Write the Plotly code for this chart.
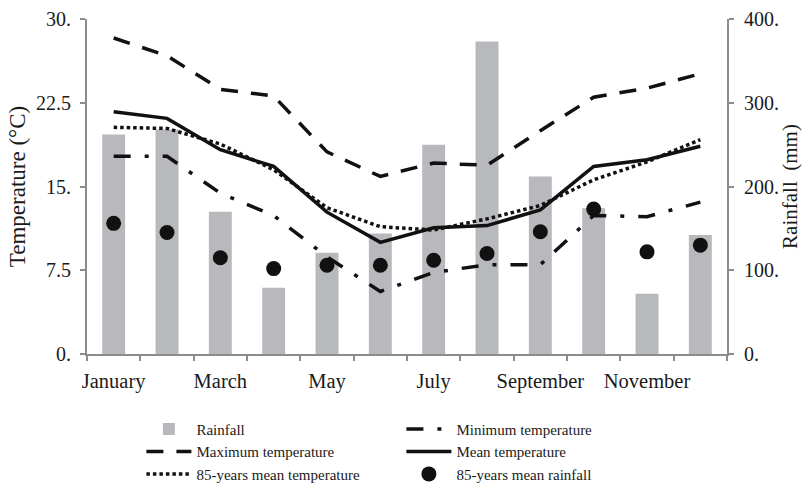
import plotly.graph_objects as go

months = ["January", "February", "March", "April", "May", "June", "July",
          "August", "September", "October", "November", "December"]
month_labels = ["January", "", "March", "", "May", "", "July", "",
                "September", "", "November", ""]

rainfall = [262, 268, 170, 79, 121, 144, 250, 373, 212, 174, 72, 142]
rain_85 = [156, 145, 115, 102, 106, 106, 112, 120, 146, 173, 122, 130]
t_max = [28.3, 26.7, 23.7, 23.1, 18.1, 15.9, 17.1, 16.9, 20.0, 23.0, 23.8, 25.1]
t_min = [17.7, 17.7, 14.4, 12.4, 8.7, 5.6, 7.3, 8.0, 8.0, 12.4, 12.3, 13.6]
t_mean = [21.7, 21.1, 18.3, 16.8, 12.7, 10.0, 11.3, 11.5, 12.9, 16.8, 17.4, 18.6]
t_mean_85 = [20.3, 20.2, 18.8, 16.5, 13.1, 11.4, 11.1, 12.1, 13.3, 15.6, 17.2, 19.2]

temp_ticks = [0, 7.5, 15, 22.5, 30]
temp_ticktext = ["0.", "7.5", "15.", "22.5", "30."]
rain_ticks = [0, 100, 200, 300, 400]
rain_ticktext = ["0.", "100.", "200.", "300.", "400."]

FONT = "Liberation Serif"
AXIS_COL = "#8c8c8c"

fig = go.Figure()

fig.add_trace(go.Bar(x=months, y=rainfall, name="Rainfall", yaxis="y",
                     marker=dict(color="#b8b9bd", line=dict(width=0)),
                     width=0.43, legendrank=1))
fig.add_trace(go.Scatter(x=months, y=rain_85, name="85-years mean rainfall",
                         yaxis="y", mode="markers",
                         marker=dict(color="#111111", size=15),
                         legendrank=6))

line_w = 3.5
fig.add_trace(go.Scatter(x=months, y=t_min, name="Minimum temperature", yaxis="y2",
                         mode="lines",
                         line=dict(color="#111111", width=line_w,
                                   dash="17px,14px,4px,14px"),
                         legendrank=2))
fig.add_trace(go.Scatter(x=months, y=t_max, name="Maximum temperature", yaxis="y2",
                         mode="lines",
                         line=dict(color="#111111", width=line_w, dash="17px,13px"),
                         legendrank=3))
fig.add_trace(go.Scatter(x=months, y=t_mean, name="Mean temperature", yaxis="y2",
                         mode="lines",
                         line=dict(color="#111111", width=line_w),
                         legendrank=4))
fig.add_trace(go.Scatter(x=months, y=t_mean_85, name="85-years mean temperature",
                         yaxis="y2", mode="lines",
                         line=dict(color="#111111", width=line_w, dash="3.5px,3px"),
                         legendrank=5))

fig.update_layout(
    width=802, height=489,
    margin=dict(l=87, r=75, t=19, b=135, autoexpand=False),
    paper_bgcolor="white", plot_bgcolor="white",
    font=dict(family=FONT, color="#1a1a1a", size=19),
    showlegend=True,
    bargap=0.5,
    xaxis=dict(
        type="category", categoryorder="array", categoryarray=months,
        range=[-0.5, 11.5], autorange=False,
        tickmode="array", tickvals=months, ticktext=month_labels,
        tickson="boundaries", ticks="outside", ticklen=5, tickcolor=AXIS_COL,
        tickwidth=1.5, tickangle=0, ticklabelstandoff=7,
        showline=True, linecolor=AXIS_COL, linewidth=2,
        showgrid=False, zeroline=False,
        tickfont=dict(family=FONT, size=20.5),
    ),
    yaxis=dict(
        range=[0, 400], side="right",
        tickmode="array", tickvals=rain_ticks, ticktext=rain_ticktext,
        ticks="outside", ticklen=5, tickcolor=AXIS_COL, tickwidth=1.5,
        ticklabelstandoff=6,
        showline=True, linecolor=AXIS_COL, linewidth=2,
        showgrid=False, zeroline=False,
        tickfont=dict(family=FONT, size=20),
        title=dict(text="Rainfall  (mm)", font=dict(family=FONT, size=21), standoff=3),
    ),
    yaxis2=dict(
        range=[0, 30], side="left", overlaying="y",
        tickmode="array", tickvals=temp_ticks, ticktext=temp_ticktext,
        ticks="outside", ticklen=5, tickcolor=AXIS_COL, tickwidth=1.5,
        ticklabelstandoff=5,
        showline=True, linecolor=AXIS_COL, linewidth=2,
        showgrid=False, zeroline=False,
        tickfont=dict(family=FONT, size=20),
        title=dict(text="Temperature (°C)", font=dict(family=FONT, size=23), standoff=4),
    ),
    legend=dict(
        orientation="h", x=0.085, xanchor="left", y=-0.175, yanchor="top",
        entrywidth=200, itemwidth=45, tracegroupgap=0,
        font=dict(family=FONT, size=15),
        bgcolor="rgba(0,0,0,0)",
    ),
)

fig.write_html(
    "out.html",
    config={"responsive": False, "displayModeBar": False},
    post_script="document.body.style.margin='0';document.body.style.overflow='hidden';",
)
